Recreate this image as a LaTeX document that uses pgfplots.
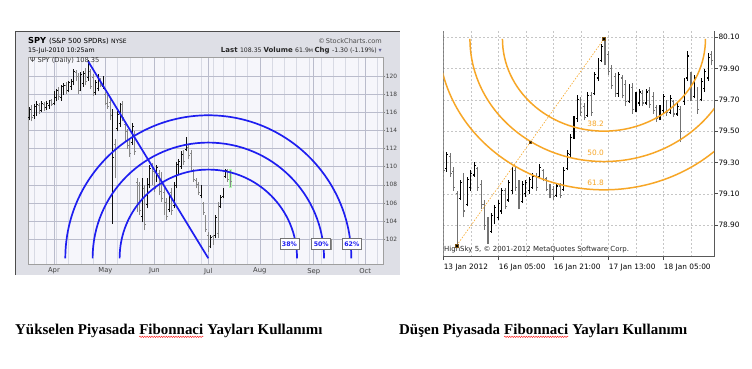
\documentclass[border=0pt]{standalone}
\usepackage{pgfplots}
\pgfplotsset{compat=1.18}
\usepackage{pgfplotstable}
\usepackage{fontspec}
\setmainfont{Liberation Serif}
\newfontfamily\dv{DejaVu Sans}
\usetikzlibrary{shadows,decorations.pathmorphing}

\definecolor{panelbg}{RGB}{222,223,230}
\definecolor{plotbg}{RGB}{246,246,251}
\definecolor{gridM}{RGB}{186,188,204}
\definecolor{gridm}{RGB}{216,218,228}
\definecolor{arcblue}{RGB}{30,30,240}
\definecolor{barblk}{RGB}{15,15,15}
\definecolor{bargray}{RGB}{135,135,135}
\definecolor{fibor}{RGB}{247,166,38}

\pgfplotstableread{
i o h l c
-10 115.4 116.6 115.1 116.3
-8 115.6 116.9 115.3 116.6
-7 116.0 117.2 115.6 116.9
-5 116.2 117.3 116.0 117.0
-3 116.5 117.2 116.3 117.0
-2 116.8 117.4 116.4 117.2
0 117.0 118.3 116.8 118.0
1 117.6 118.6 117.2 118.4
3 117.6 119.0 117.3 118.8
4 118.2 119.2 117.9 119.0
6 118.4 119.5 118.2 119.3
7 118.8 119.7 118.5 119.5
8 119.4 120.8 119.0 120.5
11 118.6 120.5 118.3 120.2
12 119.2 120.6 118.8 120.3
14 119.8 121.8 119.5 121.3
17 118.2 119.6 117.9 119.3
18 118.6 120.2 118.3 119.9
20 118.9 120.0 118.6 119.7
24 115.8 116.4 103.7 111.0
26 114.2 116.1 113.9 115.8
27 114.8 117.0 114.4 116.6
32 112.7 114.8 112.4 114.4
36 104.5 108.7 103.9 108.2
38 105.8 108.7 105.4 108.4
39 108.0 110.2 107.6 109.8
42 108.6 110.2 108.3 109.9
47 105.3 106.9 105.0 106.6
49 105.7 108.3 105.4 108.0
50 107.9 110.5 107.6 110.2
51 109.4 110.9 109.1 110.6
52 110.0 111.7 109.8 111.4
54 111.9 113.3 111.7 112.9
60 106.8 108.0 106.5 107.7
64 101.3 102.5 101.0 102.2
66 102.4 104.7 102.1 104.4
68 105.6 106.9 105.4 106.6
69 106.7 107.6 106.5 107.4
70 108.9 109.8 108.7 109.6
}\SpyUp

\pgfplotstableread{
i o h l c
-9 116.4 116.8 115.0 115.4
-6 116.8 117.0 115.8 116.1
-4 116.9 117.1 116.1 116.4
-1 117.3 117.5 116.7 116.9
2 118.5 118.8 117.4 117.7
5 119.0 119.3 118.0 118.3
9 120.4 120.7 119.4 119.7
10 120.0 120.3 118.0 118.4
13 120.6 120.9 119.0 119.4
15 120.5 120.8 118.6 118.9
16 119.8 120.2 117.8 118.2
19 119.6 119.8 118.8 119.0
21 118.0 118.2 116.8 117.0
22 117.6 117.9 116.4 116.7
23 117.1 117.5 115.1 115.6
25 112.5 113.1 108.7 109.5
28 116.9 117.2 115.0 115.4
29 114.7 115.0 112.8 113.2
30 113.9 114.2 112.0 112.4
31 112.8 113.1 111.1 111.5
33 113.6 113.9 111.3 111.7
34 108.3 108.7 105.0 105.5
35 107.9 108.3 104.7 105.2
37 107.6 108.0 103.0 103.6
40 110.1 110.4 108.0 108.5
41 109.5 109.8 107.2 107.6
43 109.3 109.6 106.9 107.3
44 109.0 109.4 106.1 106.5
45 107.2 107.6 104.7 105.1
46 106.1 106.5 104.1 104.5
48 107.2 107.6 104.7 105.2
53 111.5 111.8 110.2 110.6
55 112.1 112.4 110.9 111.2
56 111.5 111.8 109.4 109.8
57 109.5 109.8 108.3 108.6
58 108.5 108.7 107.6 107.8
59 108.0 108.3 106.9 107.2
61 105.9 106.1 104.7 105.0
62 104.4 104.7 102.8 103.1
63 102.4 102.8 100.6 101.2
65 102.3 102.5 101.4 101.6
67 102.6 106.1 102.1 105.8
71 109.6 109.8 108.3 108.6
72 109.4 109.6 107.8 108.35
}\SpyDn

\pgfplotstableread{
k o h l c
1 79.26 79.37 79.24 79.35
5 79.07 79.19 79.06 79.17
7 79.03 79.21 79.02 79.19
8 79.14 79.25 79.12 79.23
9 79.22 79.30 79.21 79.28
14 78.86 78.98 78.85 78.96
15 78.93 79.03 78.91 79.01
16 78.95 79.06 78.93 79.04
17 78.99 79.14 78.97 79.12
19 79.06 79.19 79.05 79.17
20 79.12 79.27 79.10 79.25
23 79.05 79.18 79.04 79.16
24 79.10 79.19 79.08 79.17
25 79.12 79.21 79.10 79.19
26 79.14 79.23 79.13 79.21
28 79.21 79.29 79.20 79.27
33 79.09 79.17 79.08 79.15
35 79.13 79.27 79.12 79.25
36 79.26 79.38 79.25 79.36
37 79.35 79.48 79.33 79.46
38 79.46 79.60 79.45 79.58
39 79.58 79.73 79.56 79.70
42 79.60 79.75 79.59 79.73
44 79.74 79.88 79.73 79.86
45 79.84 79.97 79.82 79.95
46 79.95 80.06 79.94 80.04
51 79.74 79.88 79.72 79.86
54 79.69 79.80 79.68 79.78
56 79.64 79.75 79.62 79.73
57 79.68 79.77 79.66 79.75
59 79.68 79.77 79.67 79.75
63 79.58 79.67 79.57 79.65
64 79.63 79.74 79.61 79.72
66 79.62 79.73 79.61 79.71
68 79.61 79.68 79.60 79.66
70 79.69 79.84 79.67 79.82
71 79.84 80.01 79.82 79.98
73 79.72 79.86 79.71 79.84
75 79.70 79.84 79.69 79.82
76 79.77 79.90 79.75 79.88
77 79.84 80.00 79.82 79.97
}\FxUp

\pgfplotstableread{
k o h l c
0 79.35 79.37 79.23 79.25
2 79.34 79.36 79.21 79.23
3 79.24 79.27 79.12 79.14
4 79.10 79.12 78.77 78.95
6 79.18 79.23 78.95 78.99
10 79.26 79.27 79.12 79.14
11 79.16 79.19 79.00 79.03
12 79.03 79.06 78.87 78.90
13 78.92 78.95 78.78 78.82
18 79.12 79.14 79.00 79.02
21 79.25 79.27 79.12 79.14
22 79.16 79.19 79.00 79.03
27 79.21 79.23 79.12 79.14
29 79.25 79.26 79.18 79.19
30 79.20 79.21 79.12 79.13
31 79.15 79.16 79.07 79.08
32 79.13 79.15 79.06 79.08
34 79.15 79.17 79.07 79.09
40 79.70 79.72 79.60 79.62
41 79.66 79.68 79.57 79.59
43 79.73 79.75 79.60 79.62
47 80.04 80.10 79.92 79.95
48 79.99 80.01 79.86 79.88
49 79.90 79.92 79.77 79.79
50 79.85 79.87 79.72 79.74
52 79.84 79.86 79.71 79.73
53 79.80 79.83 79.66 79.69
55 79.78 79.81 79.61 79.64
58 79.74 79.76 79.66 79.68
60 79.76 79.78 79.65 79.67
61 79.72 79.75 79.61 79.63
62 79.65 79.67 79.56 79.58
65 79.69 79.70 79.60 79.62
67 79.69 79.70 79.59 79.61
69 79.64 79.66 79.43 79.50
72 79.86 79.88 79.69 79.72
74 79.76 79.78 79.61 79.64
78 79.99 80.01 79.92 79.95
}\FxDn

\tikzset{fibbox/.style={fill=white, draw=black!55, line width=0.6, text=arcblue, inner sep=0.8bp, minimum width=19bp, minimum height=11bp,
        drop shadow={shadow xshift=0.8bp, shadow yshift=-0.8bp, fill=black!45, opacity=1}},
        redwave/.style={red, line width=0.35, decorate, decoration={snake, amplitude=0.75bp, segment length=2.4bp}}}
\newcommand{\capf}{\fontsize{15}{15}\selectfont\bfseries}

\begin{document}
\begin{tikzpicture}[x=1bp,y=1bp]
\useasboundingbox (0,0) rectangle (752,368);
\fill[white] (0,0) rectangle (752,368);
% ---------- left panel ----------
\fill[panelbg] (15,93) rectangle (400,337);
\draw[gray!60!black, line width=0.8] (15.4,93) -- (15.4,336.6) -- (400,336.6);
\node[anchor=base west, inner sep=0] at (28,325) {\dv\fontsize{8.3}{8.3}\selectfont\bfseries SPY\ \mdseries\fontsize{7}{7}\selectfont(S\&P 500 SPDRs) \fontsize{6}{6}\selectfont NYSE};
\node[anchor=base east, inner sep=0, text=black!70] at (382,325) {\dv\fontsize{6.6}{6.6}\selectfont \char"00A9\,StockCharts.com};
\node[anchor=base west, inner sep=0] at (28,316) {\dv\fontsize{6.3}{6.3}\selectfont 15-Jul-2010 10:25am};
\node[anchor=base east, inner sep=0, text=black!85] at (382,316) {\dv\fontsize{7}{7}\selectfont\bfseries Last \mdseries\fontsize{6.2}{6.2}\selectfont 108.35 \bfseries\fontsize{7}{7}\selectfont Volume \mdseries\fontsize{6.2}{6.2}\selectfont 61.9\fontsize{4.8}{4.8}\selectfont M \bfseries\fontsize{7}{7}\selectfont Chg \mdseries\fontsize{6.2}{6.2}\selectfont -1.30 (-1.19\%) \textcolor{gray!80!blue}{▾}};

\begin{axis}[
  at={(28bp,104bp)}, anchor=south west, width=355bp, height=207bp, scale only axis,
  xmin=-10.6, xmax=134.3, ymin=99.27, ymax=122.1,
  axis background/.style={fill=plotbg},
  axis line style={draw=gray!75},
  xtick={0,21,41,63,84,106,127}, xticklabels={Apr,May,Jun,Jul,Aug,Sep,Oct},
  minor xtick={-8,-3,1,6,11,16,26,31,36,45,50,55,60,65,69,74,79,89,94,99,104,109,114,119,124,132},
  ytick={102,104,106,108,110,112,114,116,118,120},
  yticklabels={102,104,106,108,110,112,114,116,118,120},
  ytick pos=right, yticklabel pos=right, xtick pos=bottom,
  tick align=outside, major tick length=2bp, minor tick length=0pt,
  xtick style={draw=none}, ytick style={draw=gray, line width=0.5},
  grid=both, major grid style={gridM, line width=0.5}, minor grid style={gridm, line width=0.45},
  tick label style={font=\dv\fontsize{5.9}{6}\selectfont, text=black!75},
  xticklabel style={font=\dv\fontsize{6.8}{7}\selectfont, yshift=1.5bp},
  yticklabel style={anchor=west, inner xsep=0.6bp},
]
\addplot[fill=green!30, draw=none] coordinates {(71.5,107.6) (72.5,107.6) (72.5,109.8) (71.5,109.8)} -- cycle;
% bars
\addplot[barblk, line width=0.9, quiver={u=0, v=\thisrow{h}-\thisrow{l}}] table[x=i, y=l] {\SpyUp};
\addplot[barblk, line width=0.9, quiver={u=0.5, v=0}] table[x expr=\thisrow{i}-0.5, y=o] {\SpyUp};
\addplot[barblk, line width=0.9, quiver={u=0.5, v=0}] table[x=i, y=c] {\SpyUp};
\addplot[bargray, line width=0.9, quiver={u=0, v=\thisrow{h}-\thisrow{l}}] table[x=i, y=l] {\SpyDn};
\addplot[bargray, line width=0.9, quiver={u=0.5, v=0}] table[x expr=\thisrow{i}-0.5, y=o] {\SpyDn};
\addplot[bargray, line width=0.9, quiver={u=0.5, v=0}] table[x=i, y=c] {\SpyDn};
% trend line
\addplot[arcblue, line width=1.7] coordinates {(14,121.6) (63,99.9)};
% Fibonacci arcs
\draw[arcblue, line width=1.7] (axis cs:63,99.9) ++(-143bp,0bp) arc[start angle=180, end angle=0, radius=143bp];
\draw[arcblue, line width=1.7] (axis cs:63,99.9) ++(-115.7bp,0bp) arc[start angle=180, end angle=0, radius=115.7bp];
\draw[arcblue, line width=1.7] (axis cs:63,99.9) ++(-88.7bp,0bp) arc[start angle=180, end angle=0, radius=88.7bp];
\node[anchor=west, inner sep=0, text=black!80] at (axis cs:-9.8,121.75) {\dv\fontsize{6.7}{6.7}\selectfont Ψ SPY (Daily) 108.35};
\node[fibbox] at (axis cs:96.1,101.46) {\dv\bfseries\fontsize{6.3}{6.3}\selectfont 38\%};
\node[fibbox] at (axis cs:109.1,101.46) {\dv\bfseries\fontsize{6.3}{6.3}\selectfont 50\%};
\node[fibbox] at (axis cs:121.6,101.46) {\dv\bfseries\fontsize{6.3}{6.3}\selectfont 62\%};
\end{axis}

% ---------- right chart ----------
\begin{axis}[
  at={(443.3bp,111.3bp)}, anchor=south west, width=270.7bp, height=225.7bp, scale only axis,
  xmin=0, xmax=78.69, ymin=78.698, ymax=80.14,
  axis x line*=bottom, axis y line*=right,
  axis line style={draw=black!65, line width=0.8},
  xtick={0,16,32,48,64},
  xticklabels={13 Jan 2012,16 Jan 05:00,16 Jan 21:00,17 Jan 13:00,18 Jan 05:00},
  minor xtick={8,24,40,56,72},
  ytick={78.9,79.1,79.3,79.5,79.7,79.9,80.1},
  yticklabels={78.90,79.10,79.30,79.50,79.70,79.90,80.10},
  tick align=outside, major tick length=3.5bp, minor tick length=0pt,
  tick style={draw=black!70, line width=0.6},
  grid=both,
  major grid style={gray!45, dash pattern=on 2bp off 2bp, line width=0.5},
  minor grid style={gray!45, dash pattern=on 2bp off 2bp, line width=0.5},
  tick label style={font=\dv\fontsize{7.4}{7.5}\selectfont, text=black},
  xticklabel style={anchor=north west, inner xsep=0.3bp},
  yticklabel style={anchor=west, inner xsep=0.8bp},
]
\draw[black!65, line width=0.8] (rel axis cs:0,0) -- (rel axis cs:0,1);
\addplot[black, line width=1.1, quiver={u=0, v=\thisrow{h}-\thisrow{l}}] table[x=k, y=l] {\FxUp};
\addplot[black, line width=1.1, quiver={u=0.4, v=0}] table[x expr=\thisrow{k}-0.4, y=o] {\FxUp};
\addplot[black, line width=1.1, quiver={u=0.4, v=0}] table[x=k, y=c] {\FxUp};
\addplot[black!55, line width=1.1, quiver={u=0, v=\thisrow{h}-\thisrow{l}}] table[x=k, y=l] {\FxDn};
\addplot[black!55, line width=1.1, quiver={u=0.4, v=0}] table[x expr=\thisrow{k}-0.4, y=o] {\FxDn};
\addplot[black!55, line width=1.1, quiver={u=0.4, v=0}] table[x=k, y=c] {\FxDn};
% arcs
\draw[fibor, line width=1.5] (axis cs:46.7,80.09) ++(-101.5bp,0bp) arc[start angle=180, end angle=360, x radius=101.5bp, y radius=92.3bp];
\draw[fibor, line width=1.5] (axis cs:46.7,80.09) ++(-134bp,0bp) arc[start angle=180, end angle=360, x radius=134bp, y radius=122.7bp];
\draw[fibor, line width=1.5] (axis cs:46.7,80.09) ++(-165.5bp,0bp) arc[start angle=180, end angle=360, x radius=165.5bp, y radius=151bp];
\addplot[fibor, line width=0.6, dash pattern=on 1.5bp off 1.5bp] coordinates {(3.9,78.77) (46.7,80.09)};
\addplot[only marks, mark=square*, mark size=1.3bp, mark options={fill=black, draw=fibor!50!black}] coordinates {(3.9,78.77) (25.3,79.43) (46.7,80.09)};
\node[text=fibor, inner sep=0] at (axis cs:44.3,79.546) {\dv\fontsize{7.4}{7.4}\selectfont 38.2};
\node[text=fibor, inner sep=0] at (axis cs:44.3,79.359) {\dv\fontsize{7.4}{7.4}\selectfont 50.0};
\node[text=fibor, inner sep=0] at (axis cs:44.3,79.173) {\dv\fontsize{7.4}{7.4}\selectfont 61.8};
\node[anchor=west, inner sep=0, text=black!85] at (axis cs:0.2,78.745) {\dv\fontsize{7}{7}\selectfont HighSky 5, \char"00A9\ 2001-2012 MetaQuotes Software Corp.};
\end{axis}

% ---------- captions ----------
\node (c1) [anchor=base west, inner sep=0] at (15,34) {\capf Yükselen Piyasada};
\node (c2) [anchor=base west, inner sep=0] at (c1.base east) {\capf\ Fibonnaci};
\node (c3) [anchor=base west, inner sep=0] at (c2.base east) {\capf\ Yayları Kullanımı};
\draw[redwave] ([xshift=3.8bp, yshift=-2.8bp]c2.base west) -- ([yshift=-2.8bp]c2.base east);
\node (d1) [anchor=base west, inner sep=0] at (399,34) {\capf Düşen Piyasada};
\node (d2) [anchor=base west, inner sep=0] at (d1.base east) {\capf\ Fibonnaci};
\node (d3) [anchor=base west, inner sep=0] at (d2.base east) {\capf\ Yayları Kullanımı};
\draw[redwave] ([xshift=3.8bp, yshift=-2.8bp]d2.base west) -- ([yshift=-2.8bp]d2.base east);
\end{tikzpicture}
\end{document}
